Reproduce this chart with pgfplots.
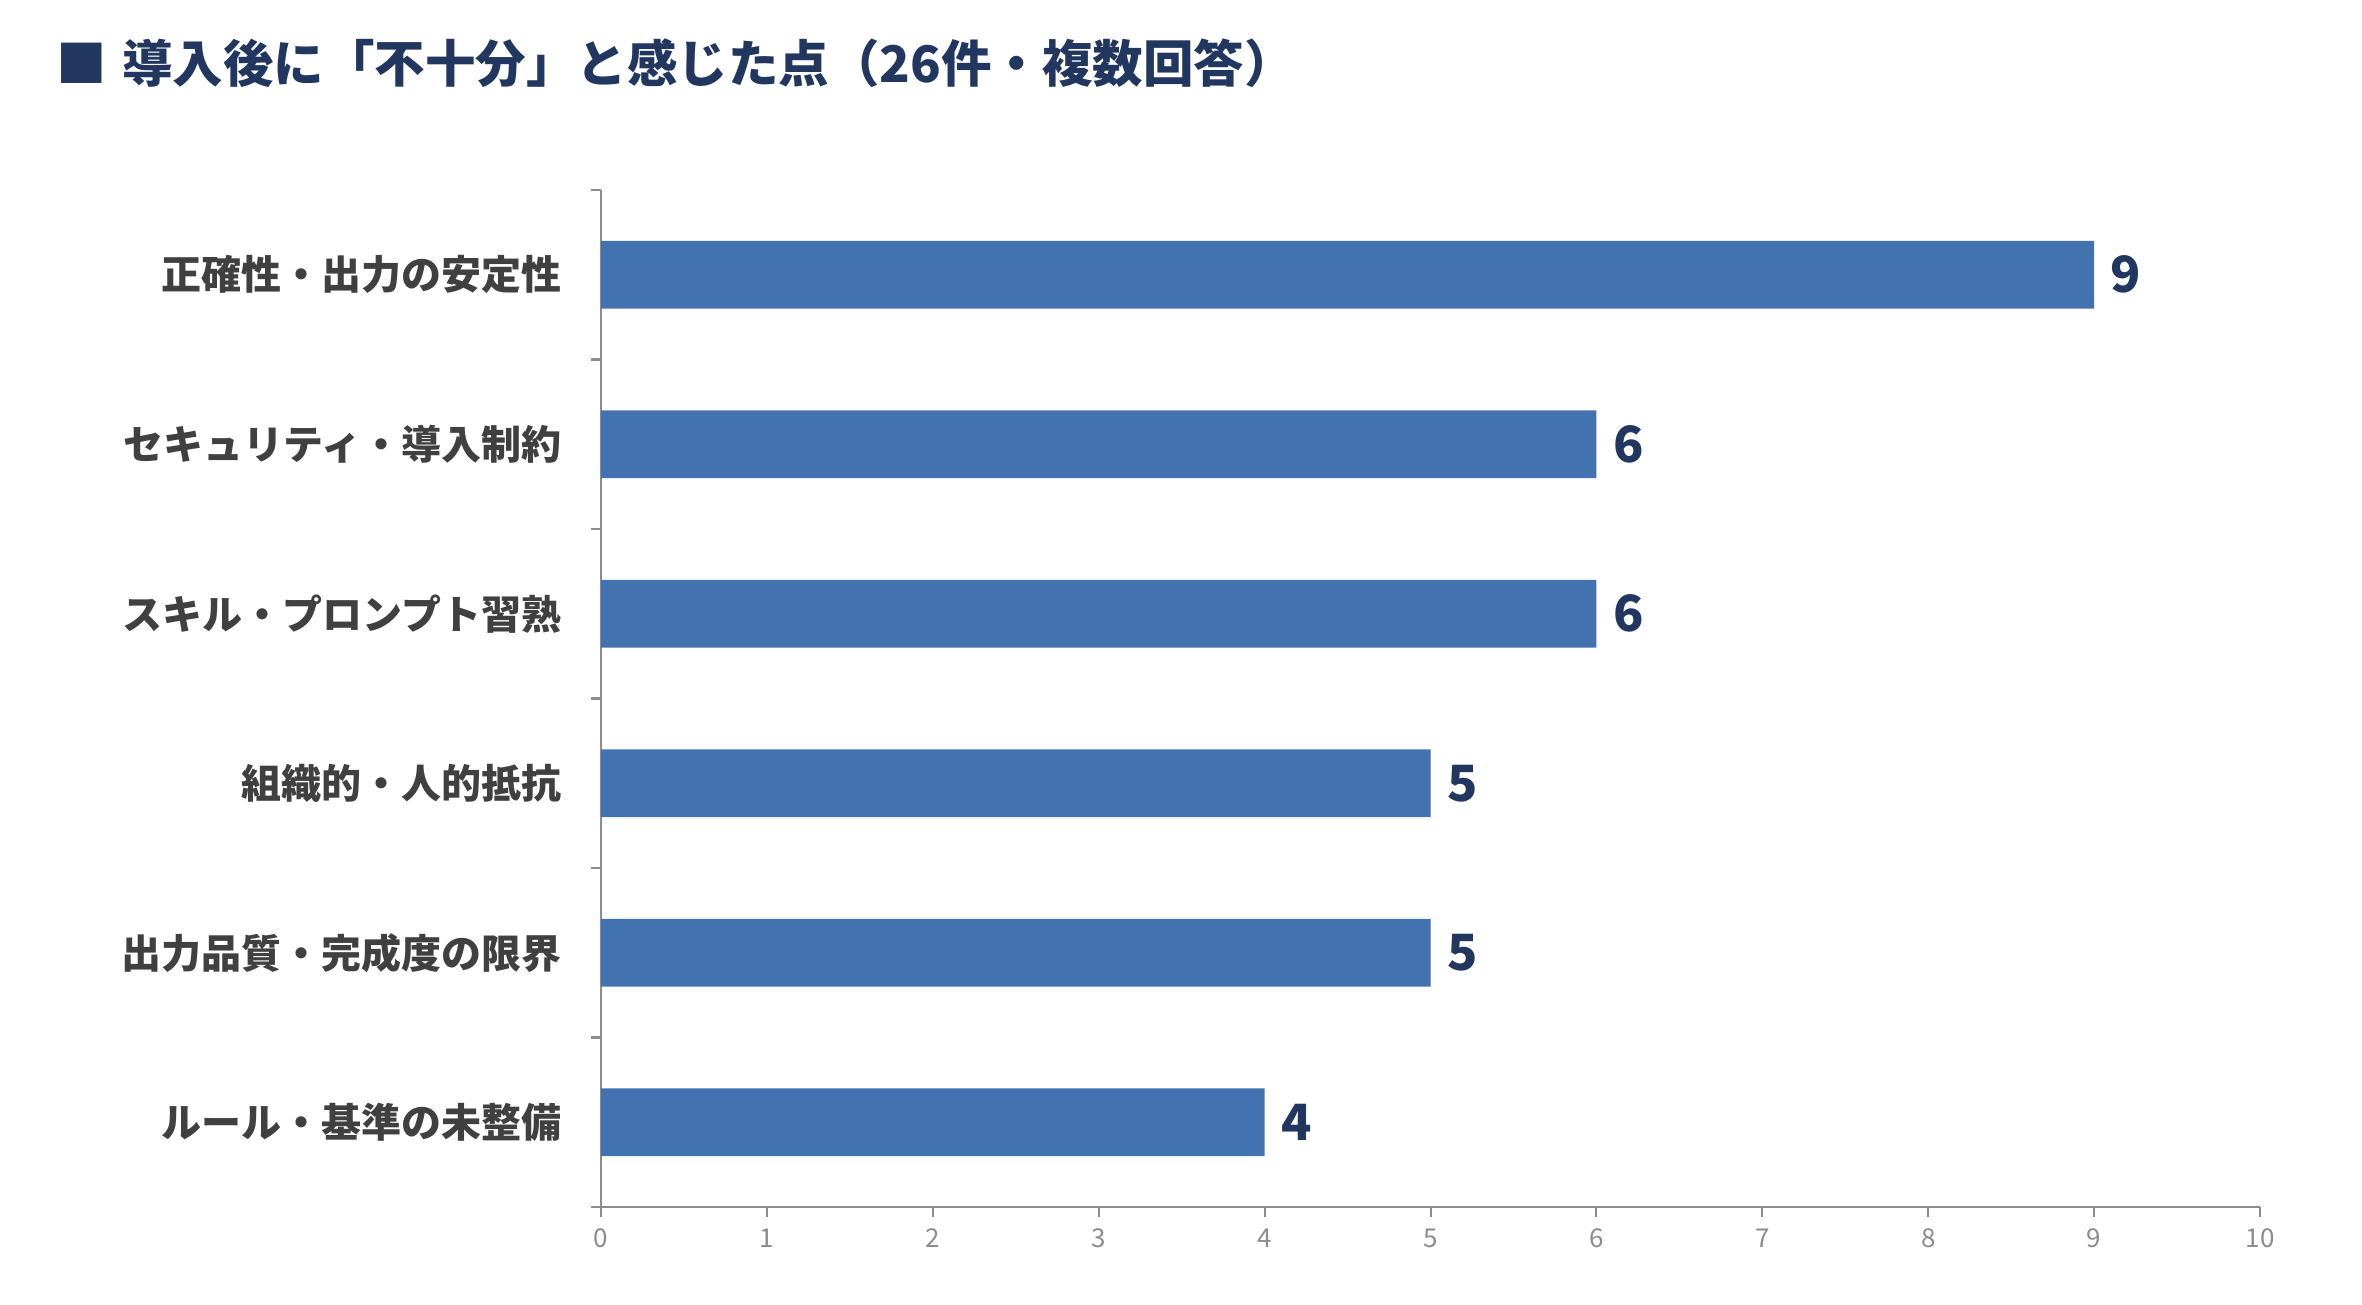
\documentclass[border=0pt]{standalone}
\usepackage{fontspec}
\setmainfont{Noto Sans CJK JP}
\usepackage{pgfplots}
\pgfplotsset{compat=1.18}
\definecolor{barblue}{HTML}{4272AF}
\definecolor{navy}{HTML}{22375F}
\definecolor{labgray}{HTML}{404040}
\definecolor{axgray}{HTML}{8C8C8C}
\begin{document}
\begin{tikzpicture}
\path[use as bounding box] (0,0) rectangle (708.6pt,391.2pt);
\node[anchor=west, inner sep=0pt, text=navy, font=\fontsize{15.15pt}{18pt}\selectfont\bfseries] at (16.8pt,372.3pt) {■\hspace{0.3em}導入後に「不十分」と感じた点（26件・複数回答）};
\begin{axis}[
  at={(180.3pt,29.1pt)}, anchor=south west, scale only axis,
  width=497.7pt, height=305.1pt,
  xbar, bar width=0.4, y dir=reverse,
  xmin=0, xmax=10, ymin=-0.5, ymax=5.5,
  axis lines=left, axis line style={-, axgray, line width=0.7pt},
  tick align=outside, major tick length=3pt,
  xtick={0,1,...,10},
  x tick style={axgray, line width=0.6pt},
  /pgf/number format/assume math mode=true,
  xticklabel style={text=axgray, font=\fontsize{7.8pt}{9pt}\selectfont},
  ytick={-0.5,0.5,1.5,2.5,3.5,4.5,5.5},
  y tick style={axgray, line width=0.7pt},
  yticklabels={正確性・出力の安定性, セキュリティ・導入制約, スキル・プロンプト習熟, 組織的・人的抵抗, 出力品質・完成度の限界, ルール・基準の未整備, {}},
  yticklabel style={text=labgray, font=\fontsize{12pt}{14pt}\selectfont\bfseries, yshift=-25.425pt, xshift=-5.3pt},
  nodes near coords,
  nodes near coords style={anchor=west, inner sep=0pt, xshift=4.8pt, text=navy, font=\fontsize{15pt}{18pt}\selectfont\bfseries},
  clip=false,
]
\addplot[fill=barblue, draw=none] coordinates {(9,0) (6,1) (6,2) (5,3) (5,4) (4,5)};
\end{axis}
\end{tikzpicture}
\end{document}
